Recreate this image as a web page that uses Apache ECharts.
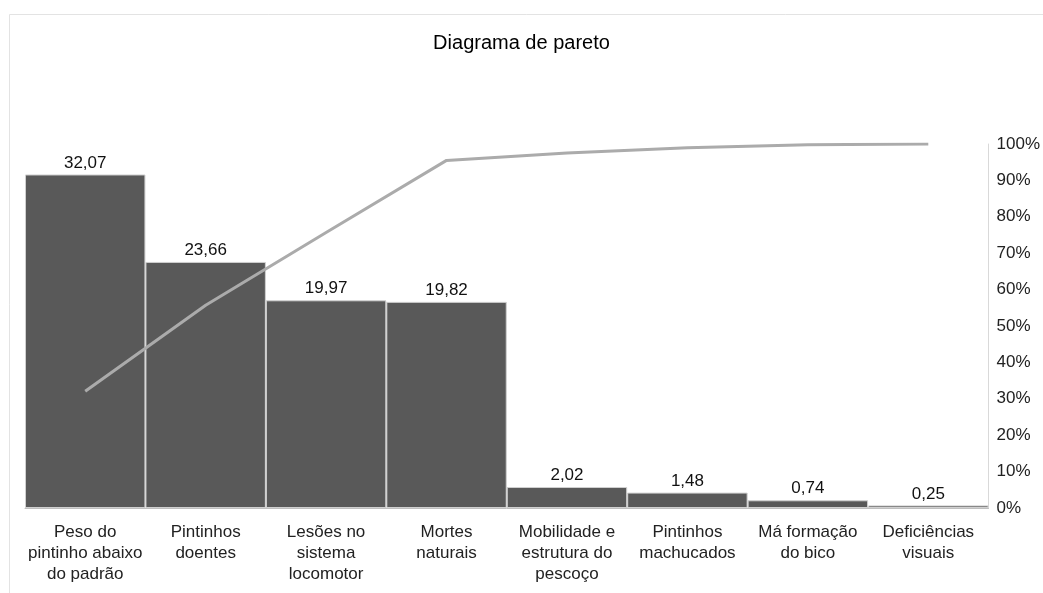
<!DOCTYPE html>
<html><head><meta charset="utf-8">
<script src="https://cdn.jsdelivr.net/npm/echarts@6/dist/echarts.min.js"></script>
<style>html,body{margin:0;padding:0;background:#fff}#c{width:1043px;height:593px}</style>
</head><body><div id="c"></div>
<script>
const categories = ['Peso do\npintinho abaixo\ndo padrão','Pintinhos\ndoentes','Lesões no\nsistema\nlocomotor','Mortes\nnaturais','Mobilidade e\nestrutura do\npescoço','Pintinhos\nmachucados','Má formação\ndo bico','Deficiências\nvisuais'];
const frequencies = [32.07, 23.66, 19.97, 19.82, 2.02, 1.48, 0.74, 0.25];
const cumulativePct = [32.1, 55.7, 75.7, 95.5, 97.5, 99.0, 99.8, 100.0];
const pctTicks = [0,10,20,30,40,50,60,70,80,90,100];

const chart = echarts.init(document.getElementById('c'), null, {renderer:'canvas'});
const font = 'Liberation Sans, Arial, sans-serif';
chart.setOption({
  animation:false,
  backgroundColor:'#fff',
  textStyle:{fontFamily:font},
  graphic:[{type:'rect',shape:{x:9.5,y:14.5,width:1100,height:700},style:{fill:'none',stroke:'#e3e3e3',lineWidth:1},z:-1}],
  title:{text:'Diagrama de pareto',left:'center',top:28,textStyle:{fontFamily:font,fontSize:20,fontWeight:'normal',color:'#000'}},
  grid:{left:25,right:53,top:144,bottom:85,containLabel:false},
  xAxis:{type:'category',data:categories,
    axisLine:{show:true,lineStyle:{color:'#bfbfbf',width:1}},axisTick:{show:false},
    axisLabel:{interval:0,fontSize:17,color:'#222',lineHeight:21,margin:14,fontFamily:font}},
  yAxis:[
    {type:'value',min:0,max:35,show:false,splitLine:{show:false}},
    {type:'value',min:0,max:100,interval:10,position:'right',
      axisLine:{show:true,lineStyle:{color:'#d9d9d9'}},axisTick:{show:false},splitLine:{show:false},
      axisLabel:{formatter:v=>pctTicks.includes(v)?v+'%':'',fontSize:17,color:'#222',margin:8,fontFamily:font}}
  ],
  series:[
    {type:'bar',data:frequencies,yAxisIndex:0,barCategoryGap:'0%',
      itemStyle:{color:'#595959',borderColor:'#d0d0d0',borderWidth:1},
      label:{show:true,position:'top',distance:3,fontSize:17,color:'#111',fontFamily:font,
        formatter:p=>p.value.toFixed(2).replace('.',',')}},
    {type:'line',data:cumulativePct,yAxisIndex:1,symbol:'none',
      lineStyle:{color:'#ababab',width:3},z:5}
  ]
});
</script></body></html>
